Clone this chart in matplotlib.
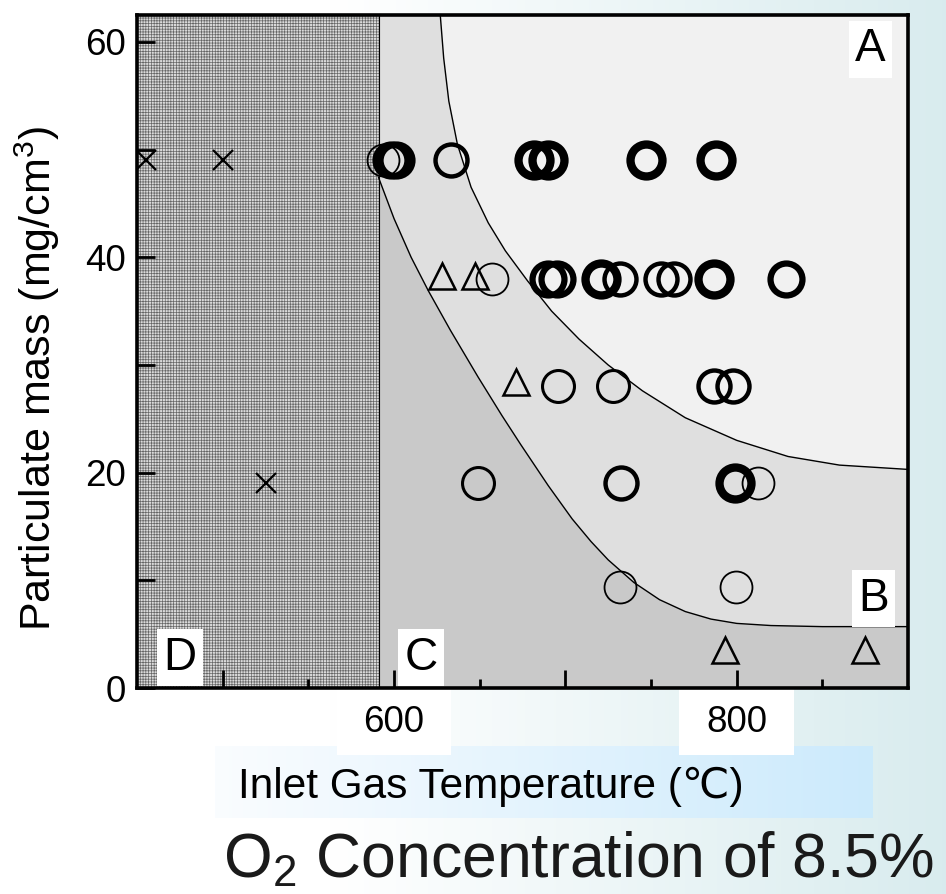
import numpy as np
import matplotlib
matplotlib.use('Agg')
import matplotlib.pyplot as plt
from matplotlib.patches import Rectangle

plt.rcParams['font.family'] = ['Liberation Sans', 'DejaVu Sans']
plt.rcParams['hatch.linewidth'] = 0.5

# region boundaries
d_limit = 591
upper_x = [627, 629, 632, 637, 645, 655, 665, 678, 692, 708, 725, 745, 770, 800, 830, 860, 900]
upper_y = [62.5, 58.5, 54.5, 50.5, 46.5, 43.2, 40.6, 37.8, 35.0, 32.4, 30.0, 27.6, 25.1, 23.0,
           21.5, 20.7, 20.3]
lower_x = [591, 600, 610, 620, 633, 649, 663, 674, 690, 704, 715, 725, 740, 755, 770, 785, 800,
           820, 850, 900]
lower_y = [47.4, 43.6, 40.0, 36.9, 33.2, 28.9, 25.3, 22.6, 18.8, 15.7, 13.6, 11.9, 9.8, 8.2, 7.1,
           6.4, 6.0, 5.8, 5.7, 5.7]

# circles, grouped by how heavy the outline is
thin_x = [593.5, 657, 812.5, 732, 799.5]
thin_y = [49, 38, 19, 9.4, 9.4]
light_x = [696, 728, 649]
light_y = [28, 28, 19]
medium_x = [633, 732.5, 786.5, 798, 755.6, 763.2, 732]
medium_y = [49, 19, 28, 28, 38, 38, 38]
bold_x = [598, 601, 829, 690, 695]
bold_y = [49, 49, 38, 38, 38]
heavy_x = [682, 690, 747, 788, 721, 786.5, 799]
heavy_y = [49, 49, 49, 49, 38, 38, 19]

tri_x = [628, 647, 671, 793, 875]
tri_y = [38.3, 38.3, 28.4, 3.5, 3.5]
cross_x = [455, 500, 525]
cross_y = [49, 49, 19]

xmajor = [500, 600, 700, 800]
xmajor_labels = ['', '600', '', '800']
xminor = [550, 650, 750, 850]
ymajor = [0, 20, 40, 60]
yminor = [10, 30, 50]

fig = plt.figure(figsize=(9.46, 8.94), dpi=100)

# slide background
bg = fig.add_axes([0, 0, 1, 1], zorder=-1)
bg.axis('off')
t = np.clip((np.linspace(0, 1, 400) - 0.35) / 0.65, 0, 1)
teal = np.array([0.85, 0.925, 0.935])
grad = (1 - t)[:, None] * np.ones(3) + t[:, None] * teal
bg.imshow(grad[None, :, :], extent=(0, 946, 894, 0), aspect='auto')
t2 = np.linspace(0, 1, 300)
blue = np.array([0.80, 0.918, 0.988])
grad2 = (1 - t2)[:, None] * np.array([0.98, 0.99, 1.0]) + t2[:, None] * blue
bg.imshow(grad2[None, :, :], extent=(215, 872, 818, 746), aspect='auto')
bg.set_xlim(0, 946)
bg.set_ylim(894, 0)

ax = fig.add_axes([137 / 946, 1 - 688 / 894, 771 / 946, 673 / 894])
ax.set_xlim(450, 900)
ax.set_ylim(0, 62.5)
ax.set_facecolor('#f1f1f1')

# shaded regions
ax.fill([d_limit, d_limit] + upper_x + [900], [0, 62.5] + upper_y + [0],
        color='#dfdfdf', lw=0, zorder=0.5)
ax.fill(lower_x + [900, d_limit], lower_y + [0, 0], color='#c9c9c9', lw=0, zorder=0.6)
ax.axvspan(450, d_limit, facecolor='#dadada', edgecolor='#666666', hatch='++++++',
           lw=0, zorder=0.7)
ax.axvline(d_limit, color='black', lw=0.8, zorder=0.8)
ax.plot(upper_x, upper_y, color='black', lw=1.0, zorder=0.9)
ax.plot(lower_x, lower_y, color='black', lw=1.0, zorder=0.9)

ms = 23
for xs, ys, w in [(thin_x, thin_y, 1.3), (light_x, light_y, 2.2), (medium_x, medium_y, 3.2),
                  (bold_x, bold_y, 4.5), (heavy_x, heavy_y, 6.0)]:
    ax.plot(xs, ys, ls='none', marker='o', ms=ms, mfc='none', mec='black', mew=w, zorder=3)
ax.plot(tri_x, tri_y, ls='none', marker='^', ms=19, mfc='none', mec='black', mew=1.8, zorder=3)
ax.plot(cross_x, cross_y, ls='none', marker='x', ms=14, mec='black', mew=1.6, zorder=3)

# region letters
lbl = dict(fontsize=33, ha='center', va='center', zorder=4,
           bbox=dict(boxstyle='square,pad=0.14', fc='white', ec='none'))
ax.text(878, 59.3, 'A', **lbl)
ax.text(880, 8.3, 'B', **lbl)
ax.text(616, 2.8, 'C', **lbl)
ax.text(475, 2.8, 'D', **lbl)

for s in ax.spines.values():
    s.set_linewidth(2.6)
    s.set_zorder(5)

ax.set_xticks(xmajor)
ax.set_xticklabels(xmajor_labels)
ax.set_xticks(xminor, minor=True)
ax.set_yticks(ymajor)
ax.set_yticks(yminor, minor=True)
ax.tick_params(which='both', direction='in', width=2, top=False, right=False)
ax.tick_params(axis='x', which='major', length=13, pad=12, labelsize=26.5)
ax.tick_params(axis='x', which='minor', length=6.5)
ax.tick_params(axis='y', which='both', length=13, pad=8, labelsize=26.5)

# white boxes behind the labelled x ticks
for tk, lab in zip(xmajor, xmajor_labels):
    if lab:
        ax.add_patch(Rectangle((tk - 33.5, -0.1), 67, 0.1, transform=ax.get_xaxis_transform(),
                               fc='white', ec='none', clip_on=False, zorder=1))

fig.text(0.0391, 0.577, 'Particulate mass (mg/$\\mathregular{cm^3}$)', rotation=90,
         ha='center', va='center', fontsize=31)
fig.text(0.519, 1 - 798 / 894, 'Inlet Gas Temperature (\u2103)', ha='center',
         va='baseline', fontsize=30.5)
fig.text(0.611, 1 - 877 / 894, '$\\mathregular{O_2}$ Concentration of 8.5%', ha='center',
         va='baseline', fontsize=45, color='#1a1a1a')

fig.savefig('out.png', dpi=100)
